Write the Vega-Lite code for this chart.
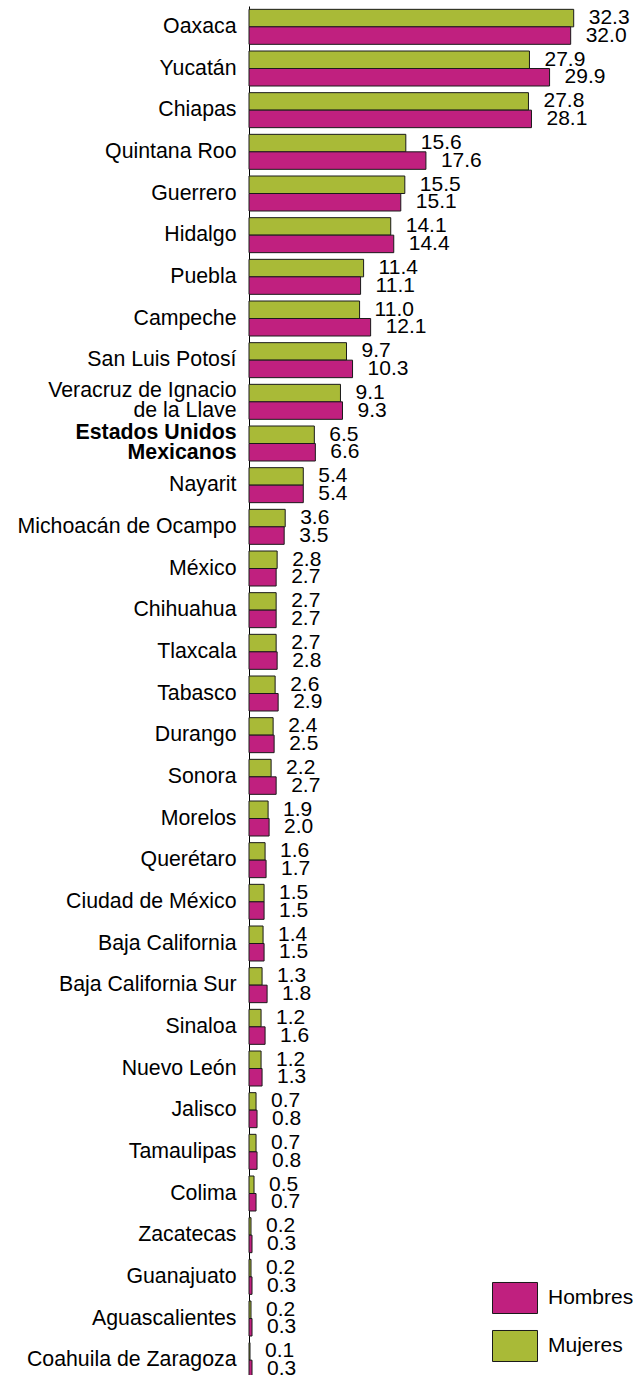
{
  "$schema": "https://vega.github.io/schema/vega-lite/v6.json",
  "autosize": {"type": "none"},
  "padding": {"left": 249, "top": 6, "right": 2, "bottom": 0},
  "width": 382,
  "height": 1375,
  "background": "white",
  "config": {"view": {"stroke": null}, "font": "Liberation Sans"},
  "data": {"values": [
    {"estado": "Oaxaca", "sexo": "Mujeres", "valor": 32.3},
    {"estado": "Oaxaca", "sexo": "Hombres", "valor": 32.0},
    {"estado": "Yucatán", "sexo": "Mujeres", "valor": 27.9},
    {"estado": "Yucatán", "sexo": "Hombres", "valor": 29.9},
    {"estado": "Chiapas", "sexo": "Mujeres", "valor": 27.8},
    {"estado": "Chiapas", "sexo": "Hombres", "valor": 28.1},
    {"estado": "Quintana Roo", "sexo": "Mujeres", "valor": 15.6},
    {"estado": "Quintana Roo", "sexo": "Hombres", "valor": 17.6},
    {"estado": "Guerrero", "sexo": "Mujeres", "valor": 15.5},
    {"estado": "Guerrero", "sexo": "Hombres", "valor": 15.1},
    {"estado": "Hidalgo", "sexo": "Mujeres", "valor": 14.1},
    {"estado": "Hidalgo", "sexo": "Hombres", "valor": 14.4},
    {"estado": "Puebla", "sexo": "Mujeres", "valor": 11.4},
    {"estado": "Puebla", "sexo": "Hombres", "valor": 11.1},
    {"estado": "Campeche", "sexo": "Mujeres", "valor": 11.0},
    {"estado": "Campeche", "sexo": "Hombres", "valor": 12.1},
    {"estado": "San Luis Potosí", "sexo": "Mujeres", "valor": 9.7},
    {"estado": "San Luis Potosí", "sexo": "Hombres", "valor": 10.3},
    {"estado": "Veracruz de Ignacio de la Llave", "sexo": "Mujeres", "valor": 9.1},
    {"estado": "Veracruz de Ignacio de la Llave", "sexo": "Hombres", "valor": 9.3},
    {"estado": "Estados Unidos Mexicanos", "sexo": "Mujeres", "valor": 6.5},
    {"estado": "Estados Unidos Mexicanos", "sexo": "Hombres", "valor": 6.6},
    {"estado": "Nayarit", "sexo": "Mujeres", "valor": 5.4},
    {"estado": "Nayarit", "sexo": "Hombres", "valor": 5.4},
    {"estado": "Michoacán de Ocampo", "sexo": "Mujeres", "valor": 3.6},
    {"estado": "Michoacán de Ocampo", "sexo": "Hombres", "valor": 3.5},
    {"estado": "México", "sexo": "Mujeres", "valor": 2.8},
    {"estado": "México", "sexo": "Hombres", "valor": 2.7},
    {"estado": "Chihuahua", "sexo": "Mujeres", "valor": 2.7},
    {"estado": "Chihuahua", "sexo": "Hombres", "valor": 2.7},
    {"estado": "Tlaxcala", "sexo": "Mujeres", "valor": 2.7},
    {"estado": "Tlaxcala", "sexo": "Hombres", "valor": 2.8},
    {"estado": "Tabasco", "sexo": "Mujeres", "valor": 2.6},
    {"estado": "Tabasco", "sexo": "Hombres", "valor": 2.9},
    {"estado": "Durango", "sexo": "Mujeres", "valor": 2.4},
    {"estado": "Durango", "sexo": "Hombres", "valor": 2.5},
    {"estado": "Sonora", "sexo": "Mujeres", "valor": 2.2},
    {"estado": "Sonora", "sexo": "Hombres", "valor": 2.7},
    {"estado": "Morelos", "sexo": "Mujeres", "valor": 1.9},
    {"estado": "Morelos", "sexo": "Hombres", "valor": 2.0},
    {"estado": "Querétaro", "sexo": "Mujeres", "valor": 1.6},
    {"estado": "Querétaro", "sexo": "Hombres", "valor": 1.7},
    {"estado": "Ciudad de México", "sexo": "Mujeres", "valor": 1.5},
    {"estado": "Ciudad de México", "sexo": "Hombres", "valor": 1.5},
    {"estado": "Baja California", "sexo": "Mujeres", "valor": 1.4},
    {"estado": "Baja California", "sexo": "Hombres", "valor": 1.5},
    {"estado": "Baja California Sur", "sexo": "Mujeres", "valor": 1.3},
    {"estado": "Baja California Sur", "sexo": "Hombres", "valor": 1.8},
    {"estado": "Sinaloa", "sexo": "Mujeres", "valor": 1.2},
    {"estado": "Sinaloa", "sexo": "Hombres", "valor": 1.6},
    {"estado": "Nuevo León", "sexo": "Mujeres", "valor": 1.2},
    {"estado": "Nuevo León", "sexo": "Hombres", "valor": 1.3},
    {"estado": "Jalisco", "sexo": "Mujeres", "valor": 0.7},
    {"estado": "Jalisco", "sexo": "Hombres", "valor": 0.8},
    {"estado": "Tamaulipas", "sexo": "Mujeres", "valor": 0.7},
    {"estado": "Tamaulipas", "sexo": "Hombres", "valor": 0.8},
    {"estado": "Colima", "sexo": "Mujeres", "valor": 0.5},
    {"estado": "Colima", "sexo": "Hombres", "valor": 0.7},
    {"estado": "Zacatecas", "sexo": "Mujeres", "valor": 0.2},
    {"estado": "Zacatecas", "sexo": "Hombres", "valor": 0.3},
    {"estado": "Guanajuato", "sexo": "Mujeres", "valor": 0.2},
    {"estado": "Guanajuato", "sexo": "Hombres", "valor": 0.3},
    {"estado": "Aguascalientes", "sexo": "Mujeres", "valor": 0.2},
    {"estado": "Aguascalientes", "sexo": "Hombres", "valor": 0.3},
    {"estado": "Coahuila de Zaragoza", "sexo": "Mujeres", "valor": 0.1},
    {"estado": "Coahuila de Zaragoza", "sexo": "Hombres", "valor": 0.3}
  ]},
  "encoding": {
    "y": {
      "field": "estado", "type": "nominal", "sort": null,
      "scale": {"paddingInner": 0.16, "paddingOuter": 0.08},
      "axis": {
        "title": null, "ticks": false, "domainColor": "black", "domainWidth": 1,
        "labelFont": "Liberation Sans", "labelFontSize": 21.3, "labelColor": "black",
        "labelPadding": 13, "labelLimit": 0, "labelLineHeight": 20,
        "labelOffset": {"condition": {"test": "datum.value === 'Estados Unidos Mexicanos' || datum.value === 'Veracruz de Ignacio de la Llave'", "value": -11}, "value": 0},
        "labelFontWeight": {"condition": {"test": "datum.value === 'Estados Unidos Mexicanos'", "value": "bold"}, "value": "normal"},
        "labelExpr": "datum.value === 'Veracruz de Ignacio de la Llave' ? ['Veracruz de Ignacio', 'de la Llave'] : datum.value === 'Estados Unidos Mexicanos' ? ['Estados Unidos', 'Mexicanos'] : datum.label"
      }
    },
    "yOffset": {"field": "sexo", "type": "nominal", "sort": ["Mujeres", "Hombres"], "scale": {"paddingInner": 0, "paddingOuter": 0}},
    "x": {"field": "valor", "type": "quantitative", "scale": {"domain": [0, 38], "nice": false}, "axis": null}
  },
  "layer": [
    {
      "mark": {"type": "bar", "stroke": "#1a1a1a", "strokeWidth": 1},
      "encoding": {
        "color": {
          "field": "sexo", "type": "nominal",
          "scale": {"domain": ["Hombres", "Mujeres"], "range": ["#C0207F", "#A9BA37"]},
          "legend": {
            "title": null, "orient": "none", "legendX": 243, "legendY": 1269, "padding": 0,
            "symbolType": "M-1,-0.689L1,-0.689L1,0.689L-1,0.689Z", "symbolSize": 2025,
            "symbolStrokeColor": "#1a1a1a", "symbolStrokeWidth": 1, "symbolOpacity": 1,
            "labelFont": "Liberation Sans", "labelFontSize": 21, "labelColor": "black",
            "labelOffset": 10, "rowPadding": 7
          }
        }
      }
    },
    {
      "mark": {"type": "text", "align": "left", "baseline": "middle", "dx": 15, "font": "Liberation Sans", "fontSize": 21, "color": "black"},
      "encoding": {
        "text": {"field": "valor", "type": "quantitative", "format": ".1f"},
        "fontWeight": {"condition": {"test": "datum.estado === 'Estados Unidos Mexicanos'", "value": "bold"}, "value": "normal"}
      }
    }
  ]
}
